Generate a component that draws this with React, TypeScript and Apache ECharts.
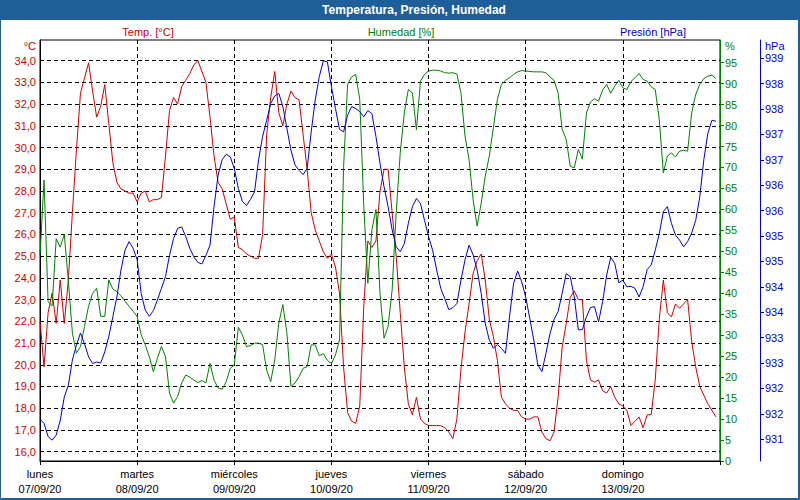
import React, { useEffect, useRef } from "react";
import * as echarts from "echarts";

const chartTitle = "Temperatura, Presión, Humedad";
const seriesNames = ["Temp. [°C]", "Humedad [%]", "Presión [hPa]"];
const unitLabels = ["°C", "%", "hPa"];
const dayNames = ["lunes", "martes", "miércoles", "jueves", "viernes", "sábado", "domingo"];
const dayDates = ["07/09/20", "08/09/20", "09/09/20", "10/09/20", "11/09/20", "12/09/20", "13/09/20"];
const tempTicks = [16, 17, 18, 19, 20, 21, 22, 23, 24, 25, 26, 27, 28, 29, 30, 31, 32, 33, 34];
const humidityTicks = [0, 5, 10, 15, 20, 25, 30, 35, 40, 45, 50, 55, 60, 65, 70, 75, 80, 85, 90, 95];
const pressureTicks = [931.25, 931.75, 932.25, 932.75, 933.25, 933.75, 934.25, 934.75, 935.25, 935.75, 936.25, 936.75, 937.25, 937.75, 938.25, 938.75];

// hourly readings, starting 07/09/20 00:00
const temperature = [
  22.0, 19.9, 22.4, 23.3, 21.9, 23.9, 21.9, 23.9, 27.0, 29.9, 32.5, 33.2, 33.9, 32.6, 31.4, 31.9, 32.9, 31.1, 29.3, 28.4, 28.1, 28.0, 27.9, 27.9,
  27.5, 27.9, 28.0, 27.5, 27.6, 27.6, 27.7, 29.6, 31.7, 32.3, 32.0, 32.8, 33.1, 33.4, 33.8, 34.0, 33.5, 33.0, 31.4, 29.6, 28.4, 28.1, 27.4, 26.7,
  26.8, 25.4, 25.3, 25.1, 25.0, 24.9, 24.9, 26.0, 30.6, 32.3, 33.5, 31.6, 31.0, 32.0, 32.6, 32.3, 32.2, 30.6, 29.0, 27.0, 26.2, 25.7, 25.2, 24.9,
  25.1, 24.5, 23.3, 19.9, 17.8, 17.4, 17.3, 18.1, 22.7, 25.7, 25.4, 25.7, 28.0, 29.0, 29.0, 27.0, 25.0, 22.4, 19.9, 18.2, 17.7, 18.5, 17.5, 17.3,
  17.2, 17.2, 17.2, 17.2, 17.1, 16.9, 16.6, 17.5, 19.8, 21.5, 22.8, 24.2, 24.8, 25.1, 23.9, 22.1, 21.3, 20.2, 18.5, 18.2, 18.0, 17.9, 17.9, 17.6,
  17.5, 17.5, 17.6, 17.6, 16.9, 16.6, 16.5, 16.9, 18.5, 20.8, 21.9, 23.1, 23.4, 23.0, 23.0, 20.2, 19.3, 19.2, 19.3, 18.8, 18.7, 19.0, 18.5, 18.2,
  18.1, 17.9, 17.2, 17.4, 17.6, 17.1, 17.7, 17.7, 19.3, 22.1, 23.9, 22.4, 22.2, 22.8, 22.6, 22.8, 23.0, 21.1, 19.9, 19.0, 18.6, 18.2, 17.9, 17.6,
];

const humidity = [
  49, 67, 38, 37, 53, 51, 54, 43, 30.5, 25.7, 27.3, 32.1, 36.9, 40.0, 41.2, 34.5, 34.5, 43.2, 41.0, 40.4, 39.4, 38.1, 36.9, 35.7,
  34.5, 30.1, 27.7, 24.9, 21.3, 24.5, 27.3, 24.9, 16.2, 13.8, 15.4, 18.6, 20.5, 20.0, 19.3, 18.7, 19.2, 18.6, 23.3, 19.3, 17.4, 17.1, 18.9, 22.1,
  22.9, 31.9, 30.1, 27.3, 27.5, 28.1, 28.1, 27.7, 21.7, 18.9, 24.1, 32.9, 37.3, 30.5, 17.8, 18.6, 20.1, 22.1, 22.5, 27.7, 27.7, 25.1, 25.6, 24.0,
  23.2, 25.3, 28.9, 70.0, 89.8, 91.6, 92.2, 86.2, 60.7, 42.4, 55.2, 60.0, 40.0, 29.3, 32.1, 40.8, 59.2, 73.5, 83.0, 88.6, 87.8, 79.0, 90.6, 92.2,
  93.0, 93.2, 93.2, 93.0, 92.6, 92.5, 92.6, 92.3, 87.8, 77.5, 71.9, 62.3, 56.0, 61.5, 67.9, 72.7, 79.5, 86.2, 89.8, 90.8, 91.4, 92.2, 92.8, 93.1,
  93.0, 92.9, 92.8, 92.8, 92.8, 92.6, 91.6, 90.8, 87.8, 79.1, 76.7, 70.3, 69.9, 74.3, 72.0, 83.0, 85.6, 86.4, 85.8, 88.5, 89.8, 87.7, 89.4, 90.8,
  89.0, 88.6, 90.5, 91.4, 92.4, 91.0, 90.6, 89.2, 88.6, 81.4, 68.7, 72.7, 73.5, 72.5, 73.9, 74.1, 73.9, 83.0, 87.4, 89.8, 91.2, 91.8, 92.0, 91.2,
];

const pressure = [
  931.64, 931.56, 931.30, 931.23, 931.33, 931.62, 932.08, 932.31, 932.81, 933.10, 933.34, 933.13, 932.87, 932.74, 932.77, 932.75, 932.97, 933.27, 933.66, 934.05, 934.58, 934.97, 935.14, 935.01,
  934.78, 934.12, 933.79, 933.67, 933.78, 933.99, 934.22, 934.45, 934.87, 935.20, 935.40, 935.43, 935.24, 935.01, 934.84, 934.73, 934.70, 934.87, 935.07, 935.83, 936.45, 936.75, 936.86, 936.81,
  936.58, 936.19, 935.93, 935.85, 935.97, 936.12, 936.75, 937.21, 937.53, 937.86, 938.01, 938.06, 937.80, 937.37, 936.94, 936.65, 936.54, 936.46, 936.58, 937.30, 937.93, 938.39, 938.70, 938.68,
  938.19, 937.76, 937.35, 937.30, 937.63, 937.80, 937.76, 937.70, 937.60, 937.72, 937.66, 937.21, 936.68, 936.22, 935.83, 935.37, 935.04, 934.94, 935.10, 935.50, 935.83, 935.99, 935.89, 935.56,
  935.24, 934.97, 934.58, 934.22, 934.02, 933.80, 933.84, 933.92, 934.38, 934.78, 935.07, 934.88, 934.58, 934.12, 933.53, 933.20, 933.04, 933.11, 933.04, 932.94, 933.66, 934.32, 934.56, 934.35,
  934.05, 933.63, 933.20, 932.71, 932.58, 932.94, 933.33, 933.61, 933.76, 934.12, 934.51, 934.45, 934.05, 933.40, 933.41, 933.66, 933.84, 933.86, 933.56, 933.96, 934.48, 934.83, 934.71, 934.33,
  934.38, 934.25, 934.26, 934.22, 934.05, 934.25, 934.59, 934.68, 934.97, 935.30, 935.73, 935.83, 935.50, 935.27, 935.17, 935.04, 935.14, 935.31, 935.56, 936.02, 936.75, 937.27, 937.53, 937.51,
];

const FONT = "'Liberation Sans', Arial, sans-serif";
const RED = "#cc0000";
const GREEN = "#008000";
const BLUE = "#0000cc";
const FRAME = "#1f5f99";

const toPairs = (arr: number[]) => arr.map((v, i) => [i, v]);

export default function App() {
  const ref = useRef<HTMLDivElement>(null);

  useEffect(() => {
    if (!ref.current) return;
    const chart = echarts.init(ref.current, undefined, { renderer: "svg" });
    const dash = [4, 3];
    const option: any = {
      animation: false,
      backgroundColor: "#ffffff",
      textStyle: { fontFamily: FONT },
      grid: {
        left: 40,
        top: 40,
        width: 680,
        height: 421,
        show: true,
        borderColor: "#000",
        borderWidth: 1,
        backgroundColor: "transparent",
      },
      xAxis: {
        type: "value",
        min: 0,
        max: 168,
        interval: 24,
        axisLine: { show: true, lineStyle: { color: "#000", width: 1 } },
        axisTick: { show: true, length: 4, lineStyle: { color: "#000" } },
        splitLine: { show: true, lineStyle: { color: "#000", type: dash, width: 1 } },
        axisLabel: {
          margin: 5,
          color: "#000",
          fontSize: 11,
          lineHeight: 15,
          fontFamily: FONT,
          showMinLabel: true,
          showMaxLabel: true,
          formatter: (v: number) => {
            const i = Math.round(v / 24);
            return i < dayNames.length ? dayNames[i] + "\n" + dayDates[i] : "";
          },
        },
      },
      yAxis: [
        {
          type: "value",
          position: "left",
          min: 15.57,
          max: 34.95,
          axisLine: { show: true, lineStyle: { color: "#000" } },
          axisTick: { show: false, customValues: tempTicks },
          axisLabel: {
            customValues: tempTicks,
            color: RED,
            fontSize: 11,
            margin: 4,
            fontFamily: FONT,
            formatter: (v: number) => v.toFixed(1).replace(".", ","),
          },
          splitLine: { show: true, lineStyle: { color: "#000", type: dash, width: 1 } },
        },
        {
          type: "value",
          position: "right",
          min: 0,
          max: 100.4,
          axisLine: { show: true, lineStyle: { color: GREEN } },
          axisTick: { show: true, length: 4, customValues: humidityTicks, lineStyle: { color: GREEN } },
          axisLabel: { customValues: humidityTicks, color: GREEN, fontSize: 11, margin: 5, fontFamily: FONT },
          splitLine: { show: false },
        },
        {
          type: "value",
          position: "right",
          offset: 40,
          min: 930.82,
          max: 939.11,
          axisLine: { show: true, lineStyle: { color: BLUE } },
          axisTick: { show: true, length: 4, customValues: pressureTicks, lineStyle: { color: BLUE } },
          axisLabel: {
            customValues: pressureTicks,
            color: BLUE,
            fontSize: 11,
            margin: 5,
            fontFamily: FONT,
            formatter: (v: number) => String(Math.round(v)),
          },
          splitLine: { show: false },
        },
      ],
      series: [
        {
          name: seriesNames[0],
          type: "line",
          yAxisIndex: 0,
          data: toPairs(temperature),
          showSymbol: false,
          symbol: "none",
          lineStyle: { color: RED, width: 1 },
          itemStyle: { color: RED },
        },
        {
          name: seriesNames[1],
          type: "line",
          yAxisIndex: 1,
          data: toPairs(humidity),
          showSymbol: false,
          symbol: "none",
          lineStyle: { color: GREEN, width: 1 },
          itemStyle: { color: GREEN },
        },
        {
          name: seriesNames[2],
          type: "line",
          yAxisIndex: 2,
          data: toPairs(pressure),
          showSymbol: false,
          symbol: "none",
          lineStyle: { color: BLUE, width: 1 },
          itemStyle: { color: BLUE },
        },
      ],
      graphic: [
        { type: "rect", shape: { x: 0, y: 0, width: 800, height: 20 }, style: { fill: FRAME }, silent: true },
        {
          type: "text",
          x: 414,
          y: 10,
          style: { text: chartTitle, fill: "#ffffff", font: `bold 12px ${FONT}`, align: "center", verticalAlign: "middle" },
        },
        { type: "rect", shape: { x: 0.5, y: 0.5, width: 798, height: 498 }, style: { fill: "none", stroke: FRAME, lineWidth: 1 } },
        { type: "line", shape: { x1: 799.5, y1: 0, x2: 799.5, y2: 500 }, style: { stroke: FRAME, lineWidth: 1 } },
        { type: "line", shape: { x1: 0, y1: 499.5, x2: 800, y2: 499.5 }, style: { stroke: FRAME, lineWidth: 1 } },
        {
          type: "text", x: 148, y: 32,
          style: { text: seriesNames[0], fill: RED, font: `11px ${FONT}`, align: "center", verticalAlign: "middle" },
        },
        {
          type: "text", x: 401, y: 32,
          style: { text: seriesNames[1], fill: GREEN, font: `11px ${FONT}`, align: "center", verticalAlign: "middle" },
        },
        {
          type: "text", x: 653, y: 32,
          style: { text: seriesNames[2], fill: BLUE, font: `11px ${FONT}`, align: "center", verticalAlign: "middle" },
        },
        {
          type: "text", x: 36, y: 46,
          style: { text: unitLabels[0], fill: RED, font: `11px ${FONT}`, align: "right", verticalAlign: "middle" },
        },
        {
          type: "text", x: 725, y: 46,
          style: { text: unitLabels[1], fill: GREEN, font: `11px ${FONT}`, align: "left", verticalAlign: "middle" },
        },
        {
          type: "text", x: 765, y: 46,
          style: { text: unitLabels[2], fill: BLUE, font: `11px ${FONT}`, align: "left", verticalAlign: "middle" },
        },
      ],
    };
    chart.setOption(option);
    return () => chart.dispose();
  }, []);

  return (
    <div
      ref={ref}
      style={{ position: "fixed", left: 0, top: 0, width: 800, height: 500, background: "#fff" }}
    />
  );
}
